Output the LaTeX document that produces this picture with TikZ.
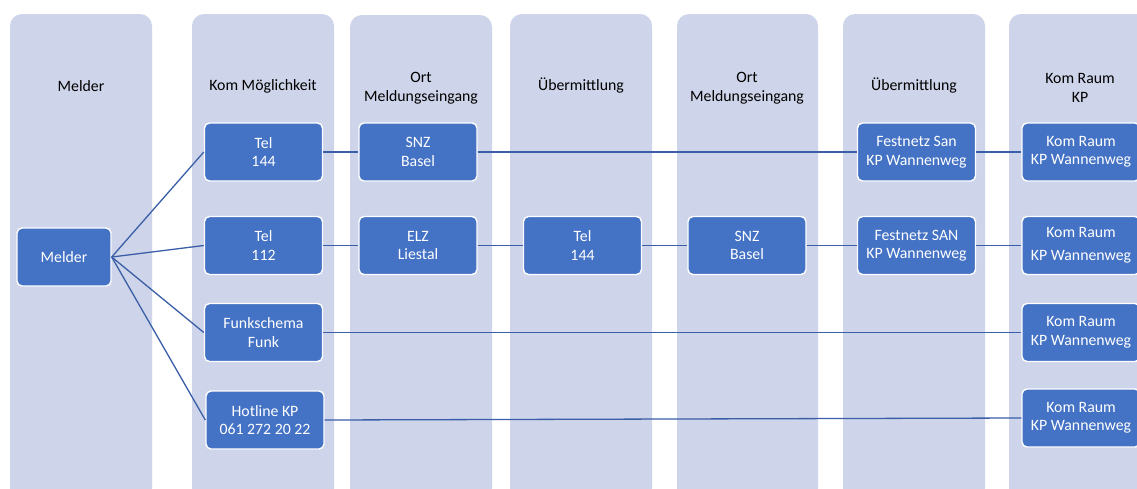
\documentclass[tikz,border=0pt]{standalone}
\usepackage{fontspec}
\setmainfont{Carlito}
\begin{document}
\definecolor{lanebg}{HTML}{CED4E9}
\definecolor{boxblue}{HTML}{4472C4}
\definecolor{linkblue}{HTML}{3A5FA8}
\begin{tikzpicture}[x=1pt,y=-1pt,
  lane/.style={fill=lanebg, draw=none, rounded corners=12pt},
  head/.style={align=center, font=\fontsize{15.8}{18.5}\selectfont, text=black},
  box/.style={fill=boxblue, draw=white, line width=1.4pt, rounded corners=5pt,
    minimum width=118pt, minimum height=58pt, inner sep=0pt, align=center,
    text=white, font=\fontsize{15.8}{18.5}\selectfont},
  link/.style={draw=linkblue, line width=1.3pt}]
\clip (0,0) rectangle (1137,488);
\fill[white] (0,0) rectangle (1137,488);

% swim lanes
\fill[lane] (10,14) rectangle (152,500);
\fill[lane] (192,14) rectangle (334,500);
\fill[lane] (350,15) rectangle (492,500);
\fill[lane] (510,14) rectangle (652,500);
\fill[lane] (677,14) rectangle (818,500);
\fill[lane] (843,14) rectangle (985,500);
\fill[lane] (1009,14) rectangle (1151,500);

% lane headings
\node[head] (h1) at (81,86) {Melder};
\node[head] (h2) at (263,86) {Kom Möglichkeit};
\node[head] (h3) at (421,88) {Ort\\Meldungseingang};
\node[head] (h4) at (581,86) {Übermittlung};
\node[head] (h5) at (747,88) {Ort\\Meldungseingang};
\node[head] (h6) at (914,86) {Übermittlung};
\node[head] (h7) at (1080,88) {Kom Raum\\KP};

% boxes
\node[box, minimum width=94pt] (melder) at (64,257) {Melder};

\node[box] (tel144) at (263.5,152) {Tel\\144};
\node[box] (tel112) at (263.5,245.5) {Tel\\112};
\node[box] (funk) at (263.5,332.5) {Funkschema\\Funk};
\node[box] (hotline) at (265,420) {Hotline KP\\061 272 20 22};

\node[box] (snz1) at (418,152) {SNZ\\Basel};
\node[box] (elz) at (418,245.5) {ELZ\\Liestal};

\node[box] (tel144b) at (582.5,245.5) {Tel\\144};

\node[box] (snz2) at (747,245.5) {SNZ\\Basel};

\node[box] (fest1) at (916.5,152) {Festnetz San\\KP Wannenweg};
\node[box] (fest2) at (916.5,245.5) {Festnetz SAN\\KP Wannenweg};

\node[box] (kom1) at (1081,152) {Kom Raum\\KP Wannenweg};
\node[box, font=\fontsize{15.8}{23}\selectfont] (kom2) at (1081,245.5) {Kom Raum\\KP Wannenweg};
\node[box] (kom3) at (1081,332.5) {Kom Raum\\KP Wannenweg};
\node[box] (kom4) at (1081,418) {Kom Raum\\KP Wannenweg};

% connectors
\draw[link] (melder.east) -- (tel144.west);
\draw[link] (melder.east) -- (tel112.west);
\draw[link] (melder.east) -- (funk.west);
\draw[link] (melder.east) -- (hotline.west);

\draw[link] (tel144) -- (snz1);
\draw[link] (snz1) -- (fest1);
\draw[link] (fest1) -- (kom1);

\draw[link] (tel112) -- (elz);
\draw[link] (elz) -- (tel144b);
\draw[link] (tel144b) -- (snz2);
\draw[link] (snz2) -- (fest2);
\draw[link] (fest2) -- (kom2);

\draw[link] (funk) -- (kom3);
\draw[link] (hotline.east) -- (kom4.west);
\end{tikzpicture}
\end{document}
